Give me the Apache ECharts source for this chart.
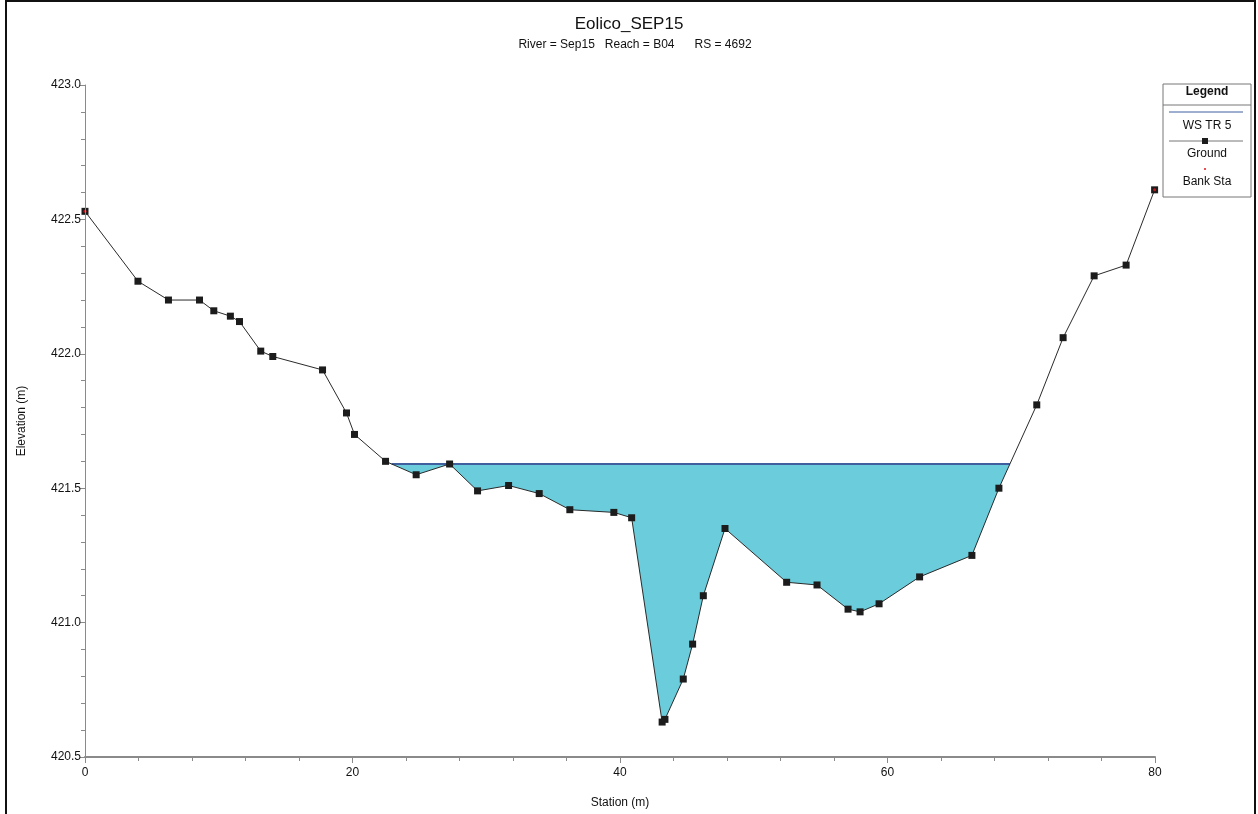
<!DOCTYPE html>
<html>
<head>
<meta charset="utf-8">
<style>
  html, body { margin: 0; padding: 0; background: #fff; }
  #chart { width: 1258px; height: 814px; }
</style>
<script src="https://cdn.jsdelivr.net/npm/echarts@6/dist/echarts.min.js"></script>
</head>
<body>
<div id="chart"></div>
<script>
// Cross-section ground survey: station (m) and elevation (m)
const station = [0, 3.96, 6.24, 8.56, 9.63, 10.87, 11.55, 13.14, 14.04, 17.76,
  19.55, 20.15, 22.47, 24.76, 27.26, 29.35, 31.67, 33.96, 36.25, 39.54,
  40.87, 43.15, 43.36, 44.73, 45.43, 46.23, 47.85, 52.46, 54.73, 57.05,
  57.95, 59.37, 62.40, 66.31, 68.33, 71.16, 73.13, 75.45, 77.84, 79.97];
const elevation = [422.53, 422.27, 422.20, 422.20, 422.16, 422.14, 422.12, 422.01, 421.99, 421.94,
  421.78, 421.70, 421.60, 421.55, 421.59, 421.49, 421.51, 421.48, 421.42, 421.41,
  421.39, 420.63, 420.64, 420.79, 420.92, 421.10, 421.35, 421.15, 421.14, 421.05,
  421.04, 421.07, 421.17, 421.25, 421.50, 421.81, 422.06, 422.29, 422.33, 422.61];

// Water surface profile (WS TR 5): edges of the wetted top width
const wsStation = [22.93, 69.15];
const wsElevation = [421.59, 421.59];

// Bank stations
const bankStation = [0, 79.97];
const bankElevation = [422.53, 422.61];

const xTicks = { min: 0, max: 80, interval: 20 };
const yTicks = { min: 420.5, max: 423.0, interval: 0.5 };

const groundData = station.map((s, i) => [s, elevation[i]]);
const wsData = wsStation.map((s, i) => [s, wsElevation[i]]);
const bankData = bankStation.map((s, i) => [s, bankElevation[i]]);

const FONT = 'Liberation Sans, Arial, sans-serif';
const chart = echarts.init(document.getElementById('chart'), null, { renderer: 'canvas' });

const legendX = 1163, legendY = 84, legendW = 88, legendH = 113;

chart.setOption({
  animation: false,
  backgroundColor: '#ffffff',
  title: [
    { text: 'Eolico_SEP15', left: 624, top: 11, textAlign: 'center',
      textStyle: { fontFamily: FONT, fontSize: 17, fontWeight: 'normal', color: '#111' } },
    { text: 'River = Sep15   Reach = B04      RS = 4692', left: 630, top: 34, textAlign: 'center',
      textStyle: { fontFamily: FONT, fontSize: 12, fontWeight: 'normal', color: '#111' } }
  ],
  grid: { left: 85, right: 103, top: 85, bottom: 55, containLabel: false },
  xAxis: {
    type: 'value', min: xTicks.min, max: xTicks.max, interval: xTicks.interval, z: 10,
    name: 'Station (m)', nameLocation: 'middle', nameGap: 40,
    nameTextStyle: { fontFamily: FONT, fontSize: 12, color: '#111' },
    axisLine: { show: true, lineStyle: { color: '#8a8a8a', width: 2 } },
    axisTick: { show: true, length: 6, lineStyle: { color: '#8a8a8a' } },
    minorTick: { show: true, splitNumber: 5, length: 4, lineStyle: { color: '#8a8a8a' } },
    splitLine: { show: false },
    axisLabel: { fontFamily: FONT, fontSize: 12, color: '#111', margin: 10 }
  },
  yAxis: {
    type: 'value', min: yTicks.min, max: yTicks.max, interval: yTicks.interval, z: 10,
    name: 'Elevation (m)', nameLocation: 'middle', nameGap: 57, nameRotate: 90,
    nameTextStyle: { fontFamily: FONT, fontSize: 12, color: '#111' },
    axisLine: { show: true, lineStyle: { color: '#8a8a8a', width: 1 } },
    axisTick: { show: true, length: 5, lineStyle: { color: '#8a8a8a' } },
    minorTick: { show: true, splitNumber: 5, length: 4, lineStyle: { color: '#8a8a8a' } },
    splitLine: { show: false },
    axisLabel: { fontFamily: FONT, fontSize: 12, color: '#111', margin: 4,
      formatter: v => v.toFixed(1) }
  },
  series: [
    { // water fill below the WS line
      name: 'WS fill', type: 'line', data: wsData, z: 1, symbol: 'none', silent: true,
      lineStyle: { width: 0 },
      areaStyle: { color: '#6bccdb', opacity: 1, origin: 'start' }
    },
    { // ground mask: everything beneath the ground line stays white
      name: 'Ground mask', type: 'line', data: groundData, z: 2, symbol: 'none', silent: true,
      lineStyle: { width: 0 },
      areaStyle: { color: '#ffffff', opacity: 1, origin: 'start' }
    },
    {
      name: 'WS TR 5', type: 'line', data: wsData, z: 3, symbol: 'none',
      lineStyle: { color: '#3f5f9e', width: 2 }
    },
    {
      name: 'Ground', type: 'line', data: groundData, z: 4,
      symbol: 'rect', symbolSize: 7,
      itemStyle: { color: '#1c1c1c' },
      lineStyle: { color: '#2a2a2a', width: 1 }
    },
    {
      name: 'Bank Sta', type: 'scatter', data: bankData, z: 5,
      symbol: 'circle', symbolSize: 3,
      itemStyle: { color: '#e0161b' }
    }
  ],
  graphic: [
    // outer frame
    { type: 'rect', shape: { x: 6, y: 1, width: 1249, height: 900 }, silent: true,
      style: { fill: 'none', stroke: '#111', lineWidth: 2 } },
    // legend box
    { type: 'rect', shape: { x: legendX, y: legendY, width: legendW, height: legendH }, z: 20,
      style: { fill: '#fff', stroke: '#777', lineWidth: 1 } },
    { type: 'line', shape: { x1: legendX, y1: legendY + 21, x2: legendX + legendW, y2: legendY + 21 }, z: 21,
      style: { stroke: '#777', lineWidth: 1 } },
    { type: 'text', x: legendX + legendW / 2, y: legendY + 8, z: 21,
      style: { text: 'Legend', font: 'bold 12px ' + FONT, fill: '#111', align: 'center', verticalAlign: 'middle' } },
    { type: 'line', shape: { x1: legendX + 6, y1: legendY + 28, x2: legendX + 80, y2: legendY + 28 }, z: 21,
      style: { stroke: '#3f5f9e', lineWidth: 1 } },
    { type: 'text', x: legendX + legendW / 2, y: legendY + 42, z: 21,
      style: { text: 'WS TR 5', font: '12px ' + FONT, fill: '#111', align: 'center', verticalAlign: 'middle' } },
    { type: 'line', shape: { x1: legendX + 6, y1: legendY + 57, x2: legendX + 80, y2: legendY + 57 }, z: 21,
      style: { stroke: '#777', lineWidth: 1 } },
    { type: 'rect', shape: { x: legendX + 39, y: legendY + 54, width: 6, height: 6 }, z: 22,
      style: { fill: '#1c1c1c' } },
    { type: 'text', x: legendX + legendW / 2, y: legendY + 70, z: 21,
      style: { text: 'Ground', font: '12px ' + FONT, fill: '#111', align: 'center', verticalAlign: 'middle' } },
    { type: 'circle', shape: { cx: legendX + 42, cy: legendY + 85, r: 1 }, z: 21,
      style: { fill: '#e0161b' } },
    { type: 'text', x: legendX + legendW / 2, y: legendY + 98, z: 21,
      style: { text: 'Bank Sta', font: '12px ' + FONT, fill: '#111', align: 'center', verticalAlign: 'middle' } }
  ]
});
</script>
</body>
</html>
